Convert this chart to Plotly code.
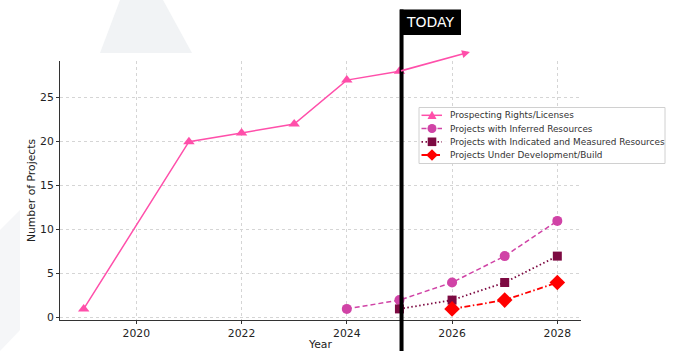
import plotly.graph_objects as go

# ---- data ----
prosp_years = [2019, 2021, 2022, 2023, 2024, 2025]
prosp_vals = [1, 20, 21, 22, 27, 28]
inf_years = [2024, 2025, 2026, 2027, 2028]
inf_vals = [1, 2, 4, 7, 11]
ind_years = [2025, 2026, 2027, 2028]
ind_vals = [1, 2, 4, 7]
dev_years = [2026, 2027, 2028]
dev_vals = [1, 2, 4]
arrow_start = (2025, 28)
arrow_end = (2026.34, 30.2)
today_year = 2025.04
x_ticks = [2020, 2022, 2024, 2026, 2028]
y_ticks = [0, 5, 10, 15, 20, 25]
series_names = ["Prospecting Rights/Licenses",
                "Projects with Inferred Resources",
                "Projects with Indicated and Measured Resources",
                "Projects Under Development/Build"]

FONT = "DejaVu Sans"
C_PROSP = "#FF4FAA"
C_INF = "#D043A6"
C_IND = "#7D0A42"
C_DEV = "#FF0000"
DASH_INF = "5px,3px"
DASH_IND = "1.5px,2.5px"
DASH_DEV = "6px,2.5px,1.5px,2.5px"

W, H = 700, 351
L, R, T, B = 60, 581, 61, 320


def px(x):
    return (x - L) / (R - L)


def py(y):
    return (B - y) / (B - T)


fig = go.Figure()
fig.add_trace(go.Scatter(x=prosp_years, y=prosp_vals, mode="lines+markers",
                         name=series_names[0],
                         line=dict(color=C_PROSP, width=1.5),
                         marker=dict(symbol="triangle-up", size=10, color=C_PROSP)))
fig.add_trace(go.Scatter(x=inf_years, y=inf_vals, mode="lines+markers",
                         name=series_names[1],
                         line=dict(color=C_INF, width=1.5, dash=DASH_INF),
                         marker=dict(symbol="circle", size=10, color=C_INF)))
fig.add_trace(go.Scatter(x=ind_years, y=ind_vals, mode="lines+markers",
                         name=series_names[2],
                         line=dict(color=C_IND, width=1.8, dash=DASH_IND),
                         marker=dict(symbol="square", size=9, color=C_IND)))
fig.add_trace(go.Scatter(x=dev_years, y=dev_vals, mode="lines+markers",
                         name=series_names[3],
                         line=dict(color=C_DEV, width=1.8, dash=DASH_DEV),
                         marker=dict(symbol="diamond", size=12, color=C_DEV)))

# arrow continuation
fig.add_annotation(x=arrow_end[0], y=arrow_end[1], ax=arrow_start[0], ay=arrow_start[1],
                   xref="x", yref="y", axref="x", ayref="y", text="",
                   showarrow=True, arrowhead=2, arrowsize=1, arrowwidth=1.6,
                   arrowcolor=C_PROSP)

# background watermark shapes
fig.add_shape(type="path", xref="paper", yref="paper", layer="below",
              path=f"M {px(100)} {py(53)} L {px(192)} {py(53)} L {px(163)} {py(0)} L {px(120)} {py(0)} Z",
              fillcolor="#F1F3F5", line=dict(width=0))
fig.add_shape(type="path", xref="paper", yref="paper", layer="below",
              path=f"M {px(0)} {py(230)} L {px(20)} {py(210)} L {px(20)} {py(330)} L {px(0)} {py(351)} Z",
              fillcolor="#F5F6F8", line=dict(width=0))

# TODAY line and label
fig.add_shape(type="line", xref="x", yref="paper", x0=today_year, x1=today_year,
              y0=py(352), y1=py(9.5), line=dict(color="black", width=4))
x_box0 = px(400)
x_box1 = px(461)
fig.add_shape(type="rect", xref="paper", yref="paper", x0=x_box0, x1=x_box1,
              y0=py(35), y1=py(9.5), fillcolor="black", line=dict(width=0))
fig.add_annotation(x=(x_box0 + x_box1) / 2, y=py(22.5), xref="paper", yref="paper",
                   text="TODAY", showarrow=False, xanchor="center", yanchor="middle",
                   font=dict(family=FONT, size=14, color="white"))

# custom compact legend (matplotlib style)
fig.add_shape(type="rect", xref="paper", yref="paper", x0=px(419), x1=px(665),
              y0=py(163.5), y1=py(107.5), fillcolor="rgba(255,255,255,0.85)",
              line=dict(color="#D0D0D0", width=1))
row_y = [115.3, 128.5, 141.8, 155.0]
colors = [C_PROSP, C_INF, C_IND, C_DEV]
dashes = ["solid", DASH_INF, DASH_IND, DASH_DEV]
widths = [1.5, 1.5, 1.8, 1.8]
for i, name in enumerate(series_names):
    yy = row_y[i]
    fig.add_shape(type="line", xref="paper", yref="paper", x0=px(421.5), x1=px(442),
                  y0=py(yy), y1=py(yy), line=dict(color=colors[i], width=widths[i], dash=dashes[i]))
    fig.add_annotation(x=px(447.5), y=py(yy), xref="paper", yref="paper", text=name,
                       showarrow=False, xanchor="left", yanchor="middle",
                       font=dict(family=FONT, size=8.9, color="#333333"))
cx = 432
y0 = row_y[0]
fig.add_shape(type="path", xref="paper", yref="paper",
              path=f"M {px(cx-4.5)} {py(y0+3.8)} L {px(cx+4.5)} {py(y0+3.8)} L {px(cx)} {py(y0-4.5)} Z",
              fillcolor=C_PROSP, line=dict(width=0))
y1 = row_y[1]
fig.add_shape(type="circle", xref="paper", yref="paper", x0=px(cx-4.5), x1=px(cx+4.5),
              y0=py(y1+4.5), y1=py(y1-4.5), fillcolor=C_INF, line=dict(width=0))
y2 = row_y[2]
fig.add_shape(type="rect", xref="paper", yref="paper", x0=px(cx-4.3), x1=px(cx+4.3),
              y0=py(y2+4.3), y1=py(y2-4.3), fillcolor=C_IND, line=dict(width=0))
y3 = row_y[3]
fig.add_shape(type="path", xref="paper", yref="paper",
              path=f"M {px(cx)} {py(y3-5.8)} L {px(cx+5.8)} {py(y3)} L {px(cx)} {py(y3+5.8)} L {px(cx-5.8)} {py(y3)} Z",
              fillcolor=C_DEV, line=dict(width=0))

fig.update_layout(
    width=W, height=H,
    margin=dict(l=L, r=W - R, t=T, b=H - B),
    paper_bgcolor="white", plot_bgcolor="white",
    font=dict(family=FONT, size=10.8, color="#222222"),
    showlegend=False,
    xaxis=dict(range=[2018.55, 2028.45], tickvals=x_ticks, automargin=False,
               showgrid=True, gridcolor="#D5D5D5", griddash="dot", gridwidth=1,
               showline=True, linecolor="#333333", linewidth=1,
               ticks="outside", ticklen=3, tickcolor="#333333",
               zeroline=False,
               title=dict(text="Year", font=dict(family=FONT, size=10.8), standoff=3)),
    yaxis=dict(range=[-0.26, 29.17], tickvals=y_ticks, automargin=False,
               showgrid=True, gridcolor="#D5D5D5", griddash="dot", gridwidth=1,
               showline=True, linecolor="#333333", linewidth=1,
               ticks="outside", ticklen=3, tickcolor="#333333",
               zeroline=False,
               title=dict(text="Number of Projects", font=dict(family=FONT, size=10.8), standoff=2)),
)

fig.write_html("out.html")
